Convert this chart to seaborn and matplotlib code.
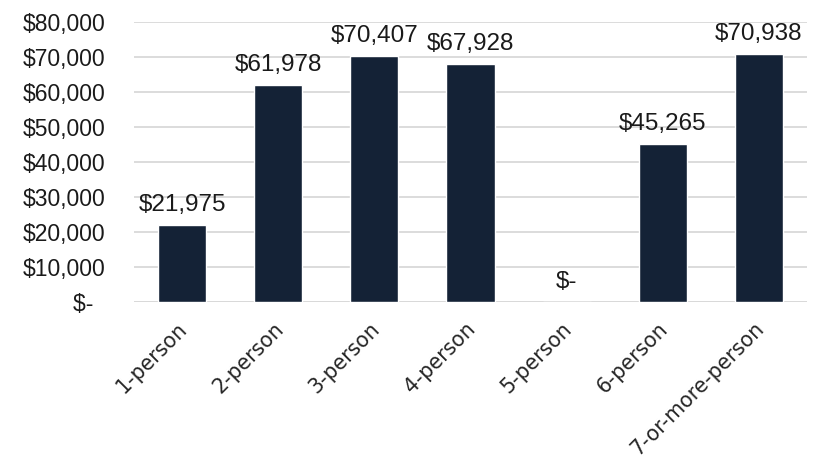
import matplotlib
matplotlib.use("Agg")
import matplotlib.pyplot as plt
import matplotlib.transforms as mtransforms
import seaborn as sns
import pandas as pd

categories = ["1-person", "2-person", "3-person", "4-person", "5-person", "6-person", "7-or-more-person"]
values = [21975, 61978, 70407, 67928, 0, 45265, 70938]
yticks = [0, 10000, 20000, 30000, 40000, 50000, 60000, 70000, 80000]

sns.set_theme(style="white")
plt.rcParams["font.family"] = ["Liberation Sans", "DejaVu Sans"]

df = pd.DataFrame({"household": categories, "income": values})

fig = plt.figure(figsize=(8.14, 4.59), dpi=100)
ax = fig.add_axes([0.165, 0.342, 0.826, 0.610])

sns.barplot(data=df, x="household", y="income", color="#142236", width=0.5,
            saturation=1, ax=ax, zorder=3)


def money(v):
    # accounting style: zero shown as a dash
    return "$-\u2002" if v == 0 else f"${v:,.0f}"


ax.set_ylim(0, 80000)
ax.set_yticks(yticks)
ax.set_yticklabels([money(v) for v in yticks], fontsize=16.5, color="#1a1a1a")
ax.set_xticks(range(len(categories)))
ax.set_xticklabels(categories, rotation=45, ha="right", rotation_mode="anchor",
                   fontsize=14.8, color="#262626", family=["DejaVu Sans"])
ax.set_xlabel("")
ax.set_ylabel("")
ax.tick_params(axis="y", length=0, pad=21)
ax.tick_params(axis="x", length=0, pad=12)

# nudge the slanted category labels a little to the left
shift = mtransforms.ScaledTranslation(-5 / 100, 0, fig.dpi_scale_trans)
for lbl in ax.get_xticklabels():
    lbl.set_transform(lbl.get_transform() + shift)

ax.grid(axis="y", color="#d9d9d9", linewidth=1.3, zorder=0)
ax.set_axisbelow(True)
for s in ax.spines.values():
    s.set_visible(False)
ax.axhline(0, color="#d9d9d9", linewidth=1.3, zorder=1)

for container in ax.containers:
    ax.bar_label(container, labels=[money(v).strip() for v in values], padding=6.5,
                 fontsize=17.5, color="#1a1a1a")

fig.savefig("out.png", dpi=100)
